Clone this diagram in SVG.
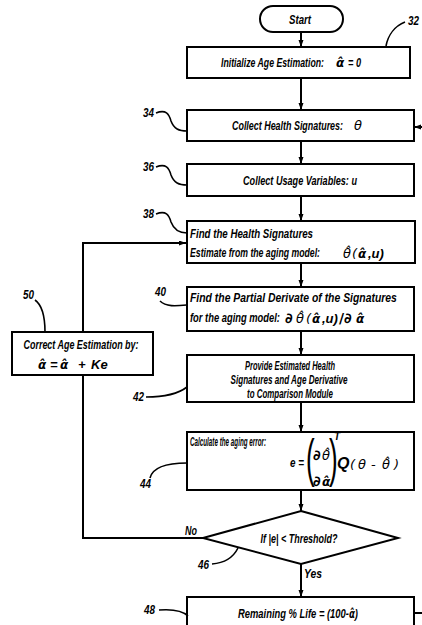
<svg xmlns="http://www.w3.org/2000/svg" width="422" height="625" viewBox="0 0 422 625">
  <defs>
    <marker id="arrow" markerUnits="userSpaceOnUse" markerWidth="8" markerHeight="6" refX="7" refY="2.5" orient="auto">
      <path d="M0,0 L7,2.5 L0,5 z" fill="#000"/>
    </marker>
    <style>
      .box { fill: #fff; stroke: #000; stroke-width: 2; }
      .wire { fill: none; stroke: #000; stroke-width: 2; }
      .lead { fill: none; stroke: #000; stroke-width: 1.6; }
      .t { font-family: "Liberation Sans", Arial, sans-serif; font-weight: bold; font-style: italic; font-size: 13px; fill: #000; }
      .a { font-family: "DejaVu Sans", sans-serif; font-weight: bold; font-style: oblique; font-size: 12px; }
      .th { font-family: "DejaVu Sans", sans-serif; font-weight: normal; font-style: oblique; font-size: 13px; }
      .d { font-family: "DejaVu Sans", sans-serif; font-weight: bold; font-style: normal; font-size: 14px; }
      .par { font-family: "Liberation Sans", Arial, sans-serif; font-weight: normal; font-style: normal; font-size: 52px; fill: #000; }
      .lbl { font-family: "Liberation Sans", Arial, sans-serif; font-weight: bold; font-style: italic; font-size: 12.5px; fill: #000; }
      .mid { text-anchor: middle; }
    </style>
  </defs>

  <!-- connectors -->
  <g id="connectors">
    <line class="wire" x1="301" y1="32" x2="301" y2="47" marker-end="url(#arrow)"/>
    <line class="wire" x1="301" y1="78" x2="301" y2="110" marker-end="url(#arrow)"/>
    <line class="wire" x1="301" y1="141" x2="301" y2="164" marker-end="url(#arrow)"/>
    <line class="wire" x1="301" y1="196" x2="301" y2="221" marker-end="url(#arrow)"/>
    <line class="wire" x1="301" y1="263" x2="301" y2="287" marker-end="url(#arrow)"/>
    <line class="wire" x1="301" y1="331" x2="301" y2="355" marker-end="url(#arrow)"/>
    <line class="wire" x1="301" y1="402" x2="301" y2="432" marker-end="url(#arrow)"/>
    <line class="wire" x1="301" y1="490" x2="301" y2="511" marker-end="url(#arrow)"/>
    <line class="wire" x1="301" y1="564" x2="301" y2="597" marker-end="url(#arrow)"/>
    <!-- "No" branch back to the signature estimate -->
    <polyline class="wire" points="203,538 83,538 83,243 186,243" marker-end="url(#arrow)"/>
    <!-- return loop entering from the right -->
    <line class="wire" x1="422" y1="127" x2="414" y2="127" marker-end="url(#arrow)"/>
    <line class="wire" x1="414" y1="613" x2="422" y2="613"/>
    <text class="t" x="185" y="535" textLength="12" lengthAdjust="spacingAndGlyphs">No</text>
    <text class="t" x="304" y="578" textLength="18" lengthAdjust="spacingAndGlyphs">Yes</text>
  </g>

  <!-- start terminal -->
  <g id="start">
    <rect class="box" x="260" y="6" width="83" height="26" rx="13"/>
    <text class="t mid" x="300" y="24" textLength="22" lengthAdjust="spacingAndGlyphs">Start</text>
  </g>

  <!-- 32 -->
  <g id="node32">
    <rect class="box" x="187" y="47" width="223" height="31"/>
    <text class="t" x="221" y="67" textLength="153.9" lengthAdjust="spacingAndGlyphs" transform="matrix(0.669,0,0,1,73.15,0)">Initialize Age Estimation:</text>
    <text class="a" x="336" y="67">α̂</text>
    <text class="t" x="348" y="67" textLength="13" lengthAdjust="spacingAndGlyphs">= 0</text>
    <path class="lead" d="M386,46 C388,35 395,26 405,22"/>
    <text class="lbl" x="408" y="25" textLength="11" lengthAdjust="spacingAndGlyphs">32</text>
  </g>

  <!-- 34 -->
  <g id="node34">
    <rect class="box" x="187" y="110" width="227" height="31"/>
    <text class="t" x="232" y="130" textLength="161.8" lengthAdjust="spacingAndGlyphs" transform="matrix(0.686,0,0,1,72.85,0)">Collect Health Signatures:</text>
    <text class="th" x="354" y="130">θ</text>
    <path class="lead" d="M156,113 C166,109 169,114 171,121 C174,129 179,131 187,131"/>
    <text class="lbl" x="143" y="117" textLength="11" lengthAdjust="spacingAndGlyphs">34</text>
  </g>

  <!-- 36 -->
  <g id="node36">
    <rect class="box" x="187" y="164" width="227" height="32"/>
    <text class="t" x="243" y="185" textLength="114" lengthAdjust="spacingAndGlyphs">Collect Usage Variables: u</text>
    <path class="lead" d="M156,167 C166,163 169,168 171,175 C174,183 179,185 187,185"/>
    <text class="lbl" x="143" y="171" textLength="11" lengthAdjust="spacingAndGlyphs">36</text>
  </g>

  <!-- 38 -->
  <g id="node38">
    <rect class="box" x="187" y="221" width="228" height="42"/>
    <text class="t" x="190" y="238" textLength="123" lengthAdjust="spacingAndGlyphs">Find the Health Signatures</text>
    <text class="t" x="190" y="257" textLength="194.3" lengthAdjust="spacingAndGlyphs" transform="matrix(0.669,0,0,1,62.89,0)">Estimate from the aging model:</text>
    <text class="t" x="343" y="258"><tspan class="th">θ̂</tspan><tspan class="th" x="352" y="258">(</tspan><tspan class="a" x="358" y="258">α̂</tspan><tspan x="368" y="258">,u)</tspan></text>
    <path class="lead" d="M156,214 C166,210 169,215 171,222 C174,230 179,233 187,233"/>
    <text class="lbl" x="143" y="218" textLength="11" lengthAdjust="spacingAndGlyphs">38</text>
  </g>

  <!-- 40 -->
  <g id="node40">
    <rect class="box" x="187" y="287" width="227" height="44"/>
    <text class="t" x="190" y="302" textLength="258.6" lengthAdjust="spacingAndGlyphs" transform="matrix(0.8,0,0,1,38,0)">Find the Partial Derivate of the Signatures</text>
    <text class="t" x="190" y="322" textLength="125" lengthAdjust="spacingAndGlyphs" transform="matrix(0.72,0,0,1,53.2,0)">for the aging model:</text>
    <text class="t" x="285" y="323"><tspan class="d">∂</tspan><tspan class="th" x="296" y="323">θ̂</tspan><tspan class="th" x="306" y="323">(</tspan><tspan class="a" x="312" y="323">α̂</tspan><tspan x="322" y="323">,u)</tspan><tspan class="d" x="339" y="323">/∂</tspan><tspan class="a" x="356" y="323">α̂</tspan></text>
    <path class="lead" d="M160,301 C166,307 176,306 187,305"/>
    <text class="lbl" x="155" y="296" textLength="11" lengthAdjust="spacingAndGlyphs">40</text>
  </g>

  <!-- 42 -->
  <g id="node42">
    <rect class="box" x="187" y="355" width="227" height="47"/>
    <text class="t mid" x="290" y="370" textLength="90" lengthAdjust="spacingAndGlyphs">Provide Estimated Health</text>
    <text class="t mid" x="289" y="384" textLength="117" lengthAdjust="spacingAndGlyphs">Signatures and Age Derivative</text>
    <text class="t mid" x="290" y="398" textLength="86" lengthAdjust="spacingAndGlyphs">to Comparison Module</text>
    <path class="lead" d="M146,397 C165,397 178,394 187,387"/>
    <text class="lbl" x="133" y="401" textLength="11" lengthAdjust="spacingAndGlyphs">42</text>
  </g>

  <!-- 44 -->
  <g id="node44">
    <rect class="box" x="187" y="432" width="227" height="58"/>
    <text class="t" x="190" y="446" style="font-size:12px" textLength="145.4" lengthAdjust="spacingAndGlyphs" transform="matrix(0.523,0,0,1,90.63,0)">Calculate the aging error:</text>
    <text class="t" x="290" y="467" textLength="14" lengthAdjust="spacingAndGlyphs">e =</text>
    <!-- tall brackets around the sensitivity ratio -->
    <text class="par" x="306" y="476" transform="matrix(0.5,0,0,1,153,0)">(</text>
    <text class="par" x="329" y="476" transform="matrix(0.5,0,0,1,164.5,0)">)</text>
    <text class="t" x="313" y="460"><tspan class="d">∂</tspan><tspan class="th" x="322" y="460">θ̂</tspan></text>
    <text class="t" x="313" y="486"><tspan class="d">∂</tspan><tspan class="a" x="322" y="486">α̂</tspan></text>
    <text class="t" x="334" y="440" style="font-size:10px">T</text>
    <text class="t" x="337" y="469" style="font-size:16px">Q</text>
    <text class="th" x="350" y="469">(<tspan x="358" y="469">θ</tspan><tspan x="371" y="469">-</tspan><tspan x="382" y="469">θ̂</tspan><tspan x="394" y="469">)</tspan></text>
    <path class="lead" d="M150,478 C152,470 160,463 187,463"/>
    <text class="lbl" x="140" y="488" textLength="11" lengthAdjust="spacingAndGlyphs">44</text>
  </g>

  <!-- 46 -->
  <g id="node46">
    <polygon class="box" points="301,511 398,538 301,564 203,538"/>
    <text class="t mid" x="299" y="543" textLength="77" lengthAdjust="spacingAndGlyphs">If |e| &lt; Threshold?</text>
    <path class="lead" d="M212,564 C225,563 233,558 238,548"/>
    <text class="lbl" x="198" y="569" textLength="11" lengthAdjust="spacingAndGlyphs">46</text>
  </g>

  <!-- 48 -->
  <g id="node48">
    <rect class="box" x="187" y="597" width="227" height="40"/>
    <text class="t" x="238" y="618" textLength="166.3" lengthAdjust="spacingAndGlyphs" transform="matrix(0.7216,0,0,1,66.26,0)">Remaining % Life = (100-<tspan class="a">α̂</tspan>)</text>
    <path class="lead" d="M159,610 C172,609 182,610 188,616"/>
    <text class="lbl" x="144" y="614" textLength="11" lengthAdjust="spacingAndGlyphs">48</text>
  </g>

  <!-- 50 -->
  <g id="node50">
    <rect class="box" x="12" y="332" width="141" height="43"/>
    <text class="t mid" x="81" y="349" textLength="115" lengthAdjust="spacingAndGlyphs">Correct Age Estimation by:</text>
    <text class="t" x="38" y="369"><tspan class="a">α̂</tspan><tspan x="50" y="369">=</tspan><tspan class="a" x="60" y="369">α̂</tspan><tspan x="78" y="369">+</tspan><tspan x="91" y="369">Ke</tspan></text>
    <path class="lead" d="M35,300 C42,305 45,315 45,332"/>
    <text class="lbl" x="23" y="299" textLength="11" lengthAdjust="spacingAndGlyphs">50</text>
  </g>
</svg>
